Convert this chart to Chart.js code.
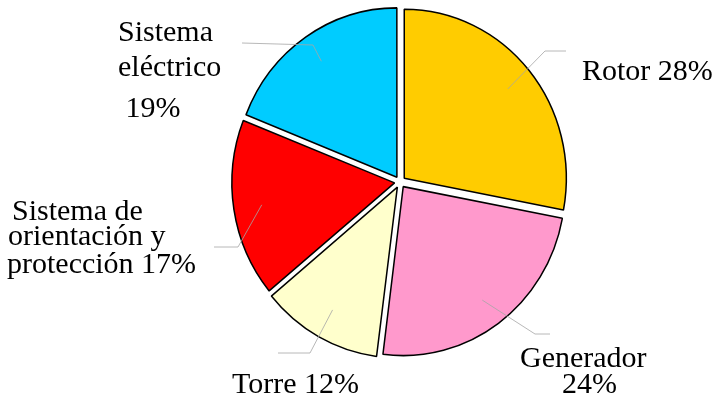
<!DOCTYPE html>
<html>
<head>
<meta charset="utf-8">
<script src="https://cdn.jsdelivr.net/npm/chart.js@4/dist/chart.umd.min.js"></script>
<style>
  html, body { margin: 0; padding: 0; background: #fff; }
  #wrap { width: 720px; height: 400px; }
</style>
</head>
<body>
<div id="wrap"><canvas id="tarta"></canvas></div>
<script>
const categorias = [
  "Rotor",
  "Generador",
  "Torre",
  "Sistema de orientación y protección",
  "Sistema eléctrico",
];
const porcentajes = [28, 24, 12, 17, 19];
const colores = ["#FFCC00", "#FF99CC", "#FFFFCC", "#FF0000", "#00CCFF"];

// text of each label, line by line
const etiquetas = [
  ["Rotor 28%"],
  ["Generador", "24%"],
  ["Torre 12%"],
  ["Sistema de", "orientación y", "protección 17%"],
  ["Sistema", "eléctrico", " 19%"],
];
// where each label sits: elbow of leader line, end of leader line, text lines [x, baseline]
const posEtiquetas = [
  { codo: [545, 51], fin: [566, 51], lineas: [[582, 80]] },
  { codo: [535, 334], fin: [550, 334], lineas: [[520, 367], [562, 393]] },
  { codo: [310, 353], fin: [278, 353], lineas: [[232, 393]] },
  { codo: [238, 247], fin: [214, 247], lineas: [[12, 220], [8, 245], [7, 273]] },
  { codo: [313, 45], fin: [242, 43], lineas: [[118, 41], [118, 76], [118, 117]] },
];

const escalaY = 1.043; // the pie in the picture is a bit taller than wide

const estirar = {
  id: "estirar",
  beforeDatasetsDraw(chart) {
    const arc = chart.getDatasetMeta(0).data[0];
    const ctx = chart.ctx;
    ctx.save();
    ctx.translate(arc.x, arc.y);
    ctx.scale(1, escalaY);
    ctx.translate(-arc.x, -arc.y);
  },
  afterDatasetsDraw(chart) {
    chart.ctx.restore();
  },
};

const rotulos = {
  id: "rotulos",
  afterDraw(chart) {
    const ctx = chart.ctx;
    const arcs = chart.getDatasetMeta(0).data;
    ctx.save();
    arcs.forEach((arc, i) => {
      const mid = (arc.startAngle + arc.endAngle) / 2;
      const desp = (arc.options.offset || 0) / 4;
      const r = arc.outerRadius * 0.83 + desp;
      const x0 = arc.x + Math.cos(mid) * r;
      const y0 = arc.y + Math.sin(mid) * r * escalaY;
      const p = posEtiquetas[i];
      ctx.strokeStyle = "#a6a6a6";
      ctx.lineWidth = 0.8;
      ctx.beginPath();
      ctx.moveTo(x0, y0);
      ctx.lineTo(p.codo[0], p.codo[1]);
      ctx.lineTo(p.fin[0], p.fin[1]);
      ctx.stroke();
      ctx.fillStyle = "#000";
      ctx.font = "30px 'Liberation Serif', serif";
      ctx.textAlign = "left";
      ctx.textBaseline = "alphabetic";
      etiquetas[i].forEach((t, j) => {
        ctx.fillText(t, p.lineas[j][0], p.lineas[j][1]);
      });
    });
    ctx.restore();
  },
};

new Chart(document.getElementById("tarta"), {
  type: "pie",
  data: {
    labels: categorias,
    datasets: [
      {
        data: porcentajes,
        backgroundColor: colores,
        borderColor: "#000",
        borderWidth: 1.5,
        offset: 22,
        hoverOffset: 22,
      },
    ],
  },
  options: {
    responsive: true,
    maintainAspectRatio: false,
    animation: false,
    radius: 162,
    layout: { padding: { left: 80, right: 0, top: 0, bottom: 36 } },
    plugins: { legend: { display: false }, tooltip: { enabled: false } },
  },
  plugins: [estirar, rotulos],
});
</script>
</body>
</html>
